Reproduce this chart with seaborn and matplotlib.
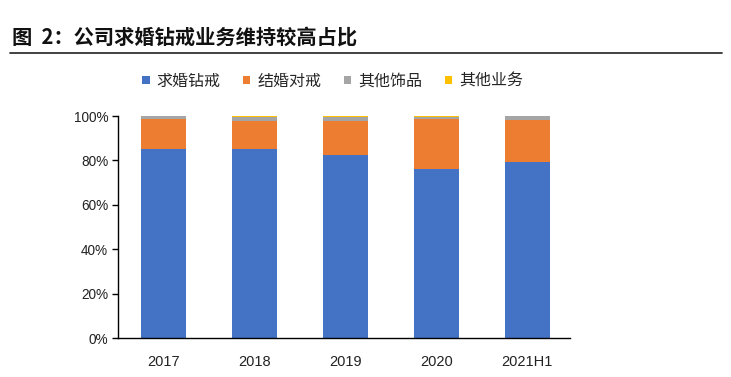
import pandas as pd
import seaborn as sns
import matplotlib.pyplot as plt
from matplotlib.patches import Patch
from matplotlib.lines import Line2D
from matplotlib.ticker import PercentFormatter

# data (% of revenue)
YEARS = ["2017", "2018", "2019", "2020", "2021H1"]
PROPOSAL = [85.3, 85.3, 82.6, 76.1, 79.1]   # 求婚钻戒
WEDDING = [13.2, 12.6, 15.1, 22.4, 19.2]    # 结婚对戒
JEWELRY = [1.4, 1.8, 1.7, 1.2, 1.7]         # 其他饰品
OTHER = [0.1, 0.3, 0.6, 0.3, 0.0]           # 其他业务

SERIES = ["求婚钻戒", "结婚对戒", "其他饰品", "其他业务"]
COLORS = ["#4472C4", "#ED7D31", "#A5A5A5", "#FFC000"]

sns.set_theme(style="white")
plt.rcParams['font.family'] = ['Liberation Sans', 'Noto Sans CJK SC', 'DejaVu Sans']

df = pd.DataFrame({"year": YEARS, SERIES[0]: PROPOSAL, SERIES[1]: WEDDING,
                   SERIES[2]: JEWELRY, SERIES[3]: OTHER})
cum = df[SERIES].cumsum(axis=1)

fig = plt.figure(figsize=(7.31, 3.77), dpi=100)
ax = fig.add_axes([0.1614, 0.1034, 0.618, 0.5888])

# stacked bars: draw the running totals from the top layer down
for name, color in reversed(list(zip(SERIES, COLORS))):
    sns.barplot(x=df["year"], y=cum[name], color=color, width=0.495,
                saturation=1, ax=ax, edgecolor="none")

ax.set_ylim(0, 100)
ax.set_yticks([0, 20, 40, 60, 80, 100])
ax.yaxis.set_major_formatter(PercentFormatter(decimals=0))
ax.set_xlim(-0.5, 4.467)
ax.set_xlabel("")
ax.set_ylabel("")
for s in ["top", "right"]:
    ax.spines[s].set_visible(False)
for s in ["left", "bottom"]:
    ax.spines[s].set_color("black")
    ax.spines[s].set_linewidth(1.0)
ax.tick_params(axis="y", left=True, length=4, width=1, color="black",
               labelsize=9.8, colors="#222222", pad=3)
ax.tick_params(axis="x", bottom=False, labelsize=10.5, colors="#222222", pad=6)

# legend
handles = [Patch(facecolor=c, edgecolor="none") for c in COLORS]
fig.legend(handles, SERIES, loc="center", bbox_to_anchor=(0.455, 0.785),
           ncol=4, frameon=False, handlelength=0.45, handleheight=0.45,
           handletextpad=0.45, columnspacing=1.4,
           prop={"family": ["Noto Sans CJK SC"], "size": 11.5})

# title and rule
fig.text(0.016, 0.902, "图  2：公司求婚钻戒业务维持较高占比", fontsize=14.6,
         fontweight="bold", family=["Noto Sans CJK SC"], color="#111111",
         va="center", ha="left")
fig.add_artist(Line2D([0.014, 0.988], [0.86, 0.86], color="#333333",
                      linewidth=1.3, transform=fig.transFigure))

fig.savefig("out.png", dpi=100)
